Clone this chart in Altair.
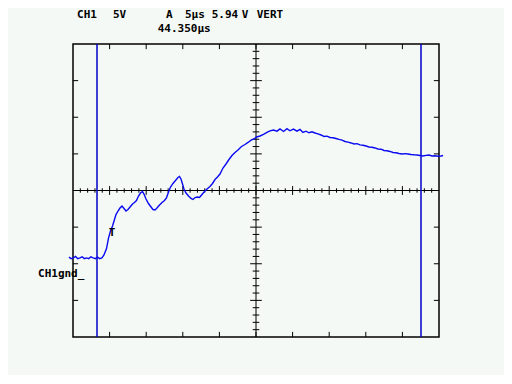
import altair as alt
import pandas as pd

# ---- waveform (time in µs from left edge, volts) ----
time_us = [-0.55, -0.25, 0.05, 0.35, 0.65, 0.95, 1.25, 1.55, 1.85, 2.15, 2.45, 2.75, 3.05, 3.35, 3.65, 3.95,
           4.23, 4.58, 4.85, 5.12, 5.40, 5.67, 5.87, 6.15, 6.42, 6.69, 6.97, 7.24, 7.51, 7.85, 8.13, 8.40,
           8.67, 8.95, 9.22, 9.49, 9.70, 9.97, 10.31, 10.66, 10.93, 11.20, 11.47, 11.82, 12.16, 12.50, 12.77,
           13.05, 13.32, 13.66, 14.00, 14.34, 14.55, 14.75, 14.96, 15.16, 15.44, 15.78, 16.12, 16.39, 16.67,
           17.01, 17.28, 17.62, 17.96, 18.31, 18.71, 19.06, 19.40, 19.74, 20.08, 20.49, 20.90, 21.31, 21.72,
           22.13, 22.54, 23.02, 23.50, 23.91, 24.38, 24.73, 25.07, 25.55, 26.02, 26.50, 26.91, 27.39, 27.87,
           28.28, 28.76, 29.23, 29.64, 30.12, 30.60, 31.01, 31.42, 31.83, 32.24, 32.65, 33.06, 33.47, 33.88,
           34.29, 34.70, 35.11, 35.52, 35.93, 36.34, 36.75, 37.16, 37.57, 37.98, 38.39, 38.80, 39.21, 39.62,
           40.03, 40.44, 40.85, 41.26, 41.67, 42.08, 42.49, 42.90, 43.31, 43.72, 44.13, 44.54, 44.95, 45.36,
           45.77, 46.17, 46.58, 46.99, 47.40, 47.81, 48.22, 48.63, 49.04, 49.45, 49.86, 50.27, 50.55]
volts = [-9.1, -9.3, -9.2, -9.0, -9.3, -9.2, -9.05, -9.3, -9.2, -9.3, -9.05, -9.2, -9.3, -9.1, -9.3, -9.2,
         -8.81, -7.92, -6.49, -5.53, -4.85, -3.96, -3.28, -2.80, -2.39, -2.12, -2.46, -2.80, -2.60, -2.19, -1.84, -1.64,
         -1.37, -0.75, -0.34, -0.14, -0.48, -1.16, -1.78, -2.25, -2.60, -2.66, -2.39, -1.98, -1.64, -1.37, -1.02,
         -0.20, 0.48, 0.96, 1.37, 1.78, 1.91, 1.57, 0.89, 0.20, -0.34, -0.75, -1.09, -1.23, -0.96,
         -0.89, -0.96, -0.55, -0.14, 0.20, 0.55, 0.96, 1.50, 1.84, 2.25, 3.07, 3.62, 4.23, 4.78,
         5.19, 5.53, 6.01, 6.28, 6.56, 6.90, 7.03, 7.31, 7.44, 7.65, 7.92, 8.13, 8.26, 8.10,
         8.40, 8.06, 8.45, 8.15, 8.38, 8.10, 8.33, 7.92, 8.10, 7.88, 8.02, 7.85, 7.72, 7.58,
         7.38, 7.42, 7.24, 7.20, 7.10, 6.97, 6.88, 6.69, 6.60, 6.49, 6.35, 6.40, 6.22, 6.18,
         6.08, 5.94, 5.90, 5.81, 5.67, 5.64, 5.46, 5.43, 5.33, 5.19, 5.15, 5.05, 4.99, 5.03,
         4.99, 4.92, 4.88, 4.85, 4.78, 4.71, 4.80, 4.85, 4.71, 4.74, 4.68, 4.71, 4.78]

cursor_times = [3.28, 47.54]

# graticule
major_t = [5, 10, 15, 20, 25, 30, 35, 40, 45]
major_v = [-15, -10, -5, 0, 5, 10, 15]
minor_t = list(range(1, 50))
minor_v = list(range(-19, 20))

# annotations
header_text = ["CH1", "5V", "A", "5µs", "5.94", "V", "VERT", "44.350µs", "CH1gnd_"]
header_t = [0.55, 5.46, 12.70, 15.30, 18.95, 23.05, 25.10, 11.57, -4.78]
header_v = [23.97, 23.97, 23.97, 23.97, 23.97, 23.97, 23.97, 22.06, -11.41]
trig_t = [5.33]
trig_v = [-5.81]

T0, T1, V0, V1 = 0, 50, -20, 20
edge_len = 0.7
xs = alt.Scale(domain=[T0, T1], nice=False, zero=False)
ys = alt.Scale(domain=[V0, V1], nice=False, zero=False)

rows = []
for t in major_t:
    rows.append(dict(x=t, x2=t, y=V1, y2=V1 - edge_len))
    rows.append(dict(x=t, x2=t, y=V0, y2=V0 + edge_len))
for v in major_v:
    rows.append(dict(x=T0, x2=T0 + edge_len, y=v, y2=v))
    rows.append(dict(x=T1, x2=T1 - edge_len, y=v, y2=v))
# center axes
rows.append(dict(x=T0, x2=T1, y=0, y2=0))
rows.append(dict(x=25, x2=25, y=V0, y2=V1))
for t in minor_t:
    h = 0.6 if t % 5 == 0 else 0.3
    rows.append(dict(x=t, x2=t, y=-h, y2=h))
for v in minor_v:
    w = 0.8 if v % 5 == 0 else 0.45
    rows.append(dict(x=25 - w, x2=25 + w, y=v, y2=v))
grat = pd.DataFrame(rows)

wave = pd.DataFrame({"t": time_us, "v": volts})
curs = pd.DataFrame({"t": cursor_times, "y": [V0] * len(cursor_times), "y2": [V1] * len(cursor_times)})
ann = pd.DataFrame({"t": header_t, "v": header_v, "s": header_text})
trig = pd.DataFrame({"t": trig_t, "v": trig_v})

grat_layer = alt.Chart(grat).mark_rule(color="black", strokeWidth=1).encode(
    x=alt.X("x:Q", scale=xs, axis=None), x2="x2:Q",
    y=alt.Y("y:Q", scale=ys, axis=None), y2="y2:Q")

curs_layer = alt.Chart(curs).mark_rule(color="#0000c8", strokeWidth=1.5).encode(
    x=alt.X("t:Q", scale=xs, axis=None),
    y=alt.Y("y:Q", scale=ys, axis=None), y2="y2:Q")

wave_layer = alt.Chart(wave).mark_line(color="#0a0af0", strokeWidth=1.4, clip=False).encode(
    x=alt.X("t:Q", scale=xs, axis=None),
    y=alt.Y("v:Q", scale=ys, axis=None), order="t:Q")

ann_layer = alt.Chart(ann).mark_text(align="left", baseline="middle", font="DejaVu Sans Mono",
                                     fontWeight="bold", fontSize=11, color="black").encode(
    x=alt.X("t:Q", scale=xs, axis=None),
    y=alt.Y("v:Q", scale=ys, axis=None), text="s:N")

trig_layer = alt.Chart(trig).mark_text(align="center", baseline="middle", font="DejaVu Sans Mono",
                                       fontWeight="bold", fontSize=11, color="black", text="T").encode(
    x=alt.X("t:Q", scale=xs, axis=None),
    y=alt.Y("v:Q", scale=ys, axis=None))

chart = alt.layer(grat_layer, curs_layer, wave_layer, trig_layer, ann_layer).properties(
    width=366, height=293,
    autosize=alt.AutoSizeParams(type="none"),
    padding={"left": 65, "top": 36, "right": 65, "bottom": 38},
    background="#f4f9f5",
).configure_view(stroke="black", strokeWidth=1.5, fill="#f4f9f5")

chart.save("out.html", embed_options={"renderer": "svg", "actions": False})
